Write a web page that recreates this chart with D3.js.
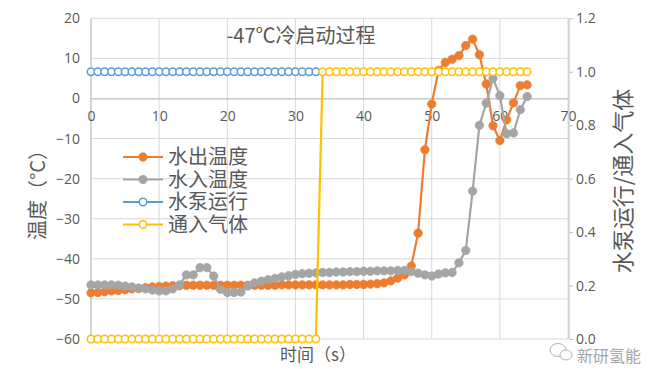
<!DOCTYPE html>
<html><head><meta charset="utf-8">
<script src="https://cdn.jsdelivr.net/npm/d3@7"></script>
<style>
html,body{margin:0;padding:0;background:#fff;}
svg{display:block;font-family:"Noto Sans CJK SC","Noto Sans",sans-serif;}
</style></head>
<body><svg id="c" width="655" height="369"></svg>
<script>
const times = d3.range(0, 65);
const outletTemp = [-48.5,-48.4,-48.2,-48.0,-47.9,-47.7,-47.5,-47.4,-47.2,-47.0,
  -46.9,-46.8,-46.7,-46.7,-46.6,-46.6,-46.6,-46.6,-46.6,-46.6,
  -46.6,-46.6,-46.6,-46.6,-46.6,-46.6,-46.6,-46.6,-46.5,-46.5,
  -46.5,-46.5,-46.5,-46.5,-46.5,-46.5,-46.5,-46.5,-46.4,-46.4,
  -46.4,-46.3,-46.2,-46.0,-45.5,-44.8,-44.0,-41.8,-33.6,-12.8,
  -1.4,7.0,9.0,9.8,10.7,13.2,14.8,10.9,3.6,-6.8,
  -10.5,-5.3,-1.1,3.2,3.4];
const inletTemp = [-46.5,-46.5,-46.5,-46.5,-46.6,-46.8,-47.0,-47.3,-47.5,-47.8,
  -48.0,-48.0,-47.5,-46.5,-44.0,-44.0,-42.2,-42.2,-44.3,-47.6,
  -48.4,-48.4,-48.3,-46.8,-46.0,-45.6,-45.2,-44.9,-44.5,-44.2,
  -43.9,-43.7,-43.6,-43.5,-43.4,-43.4,-43.3,-43.3,-43.2,-43.2,
  -43.1,-43.1,-43.0,-43.0,-43.0,-42.9,-42.9,-43.2,-43.6,-44.0,
  -44.3,-43.8,-43.5,-43.4,-41.0,-37.9,-23.1,-6.7,-1.2,5.0,
  0.7,-8.8,-8.6,-2.8,0.5];
const pumpTimes = d3.range(0, 34);
const pumpOn = pumpTimes.map(() => 1);
const gasIn = times.map(t => t <= 33 ? 0 : 1);
const seriesNames = ["水出温度","水入温度","水泵运行","通入气体"];
const seriesColors = ["#ED7D31","#A5A5A5","#5B9BD5","#FFC000"];
const xTicks = [0,10,20,30,40,50,60,70];
const yLeftTicks = [-60,-50,-40,-30,-20,-10,0,10,20];
const yRightTicks = [0,0.2,0.4,0.6,0.8,1.0,1.2];

const svg = d3.select("#c");
const x = d3.scaleLinear().domain([0,70]).range([91,568]);
const yL = d3.scaleLinear().domain([-60,20]).range([339,18.3]);
const yR = d3.scaleLinear().domain([0,1.2]).range([339,18.3]);
const txt = "#595959";
const numFont = "'Open Sans','Noto Sans',sans-serif";

// gridlines
svg.append("g").selectAll("line").data(yLeftTicks).join("line")
  .attr("x1",x(0)).attr("x2",x(70)).attr("y1",d=>yL(d)).attr("y2",d=>yL(d))
  .attr("stroke","#d9d9d9").attr("stroke-width",1);
svg.append("g").selectAll("line").data(xTicks).join("line")
  .attr("x1",d=>x(d)).attr("x2",d=>x(d)).attr("y1",yL(20)).attr("y2",yL(-60))
  .attr("stroke","#d9d9d9").attr("stroke-width",1);
// left axis line
svg.append("line").attr("x1",x(0)).attr("x2",x(0)).attr("y1",yL(20)).attr("y2",yL(-60))
  .attr("stroke","#bfbfbf");

// left axis labels
const gl = svg.append("g").attr("transform",`translate(${x(0)},0)`)
  .call(d3.axisLeft(yL).tickValues(yLeftTicks).tickSize(0).tickPadding(11).tickFormat(d3.format("d")));
gl.select(".domain").remove();
gl.selectAll("text").attr("fill",txt).style("font-size","14px").style("font-family",numFont);

// bottom axis at y=0
const gb = svg.append("g").attr("transform",`translate(0,${yL(0)})`)
  .call(d3.axisBottom(x).tickValues(xTicks).tickSize(0).tickPadding(13).tickFormat(d3.format("d")));
gb.select(".domain").attr("stroke","#bfbfbf");
gb.selectAll("text").attr("fill",txt).style("font-size","14px").style("font-family",numFont);

// right axis
const gr = svg.append("g").attr("transform",`translate(${x(70)+1},0)`)
  .call(d3.axisRight(yR).tickValues(yRightTicks).tickSize(4).tickPadding(3).tickFormat(d3.format(".1f")));
gr.select(".domain").attr("stroke","#bfbfbf").attr("d",`M0,${yR(1.2)}V${yR(0)}`);
gr.selectAll(".tick line").attr("stroke","#bfbfbf");
gr.selectAll("text").attr("fill",txt).style("font-size","14px").style("font-family",numFont);

// series
function drawSeries(xs, ys, yScale, color, hollow){
  const pts = xs.map((t,i)=>[t, ys[i]]);
  const line = d3.line().x(d=>x(d[0])).y(d=>yScale(d[1]));
  const g = svg.append("g");
  g.append("path").datum(pts).attr("d",line).attr("fill","none")
    .attr("stroke",color).attr("stroke-width",2.2).attr("stroke-linejoin","round");
  g.selectAll("circle").data(pts).join("circle")
    .attr("cx",d=>x(d[0])).attr("cy",d=>yScale(d[1]))
    .attr("r", hollow ? 3.7 : 4.2)
    .attr("fill", hollow ? "#fff" : color)
    .attr("stroke", color).attr("stroke-width", hollow ? 1.5 : 0.8);
}
drawSeries(times, outletTemp, yL, seriesColors[0], false);
drawSeries(times, inletTemp, yL, seriesColors[1], false);
drawSeries(pumpTimes, pumpOn, yR, seriesColors[2], true);
drawSeries(times, gasIn, yR, seriesColors[3], true);

// title
svg.append("text").attr("x",301).attr("y",43).attr("text-anchor","middle")
  .attr("fill",txt).style("font-size","20px").text("-47℃冷启动过程");

// axis titles
svg.append("text").attr("transform","translate(45,190) rotate(-90)").attr("text-anchor","middle")
  .attr("fill",txt).style("font-size","20px").text("温度（°C）");
svg.append("text").attr("transform","translate(631,181) rotate(-90)").attr("text-anchor","middle")
  .attr("fill",txt).style("font-size","22px").text("水泵运行/通入气体");
svg.append("text").attr("x",318).attr("y",361).attr("text-anchor","middle")
  .attr("fill",txt).style("font-size","17px").text("时间（s）");

// legend
const lg = svg.append("g");
seriesNames.forEach((n,i)=>{
  const yy = 157 + i*22.5;
  lg.append("line").attr("x1",123).attr("x2",163).attr("y1",yy).attr("y2",yy)
    .attr("stroke",seriesColors[i]).attr("stroke-width",2.2);
  lg.append("circle").attr("cx",143).attr("cy",yy).attr("r", i<2?4.2:3.7)
    .attr("fill", i<2?seriesColors[i]:"#fff").attr("stroke",seriesColors[i]).attr("stroke-width",i<2?0.8:1.5);
  lg.append("text").attr("x",168).attr("y",yy+7).attr("fill",txt)
    .style("font-size","20px").text(n);
});

// watermark
const wm = svg.append("g").attr("opacity",0.75);
wm.append("ellipse").attr("cx",558).attr("cy",350).attr("rx",8).attr("ry",6.5).attr("fill","none").attr("stroke","#999").attr("stroke-width",1);
wm.append("ellipse").attr("cx",566).attr("cy",355).attr("rx",6).attr("ry",5).attr("fill","#fff").attr("stroke","#999").attr("stroke-width",1);
wm.append("text").attr("x",577).attr("y",362).attr("fill","#888").style("font-size","16px").text("新研氢能");
</script></body></html>
